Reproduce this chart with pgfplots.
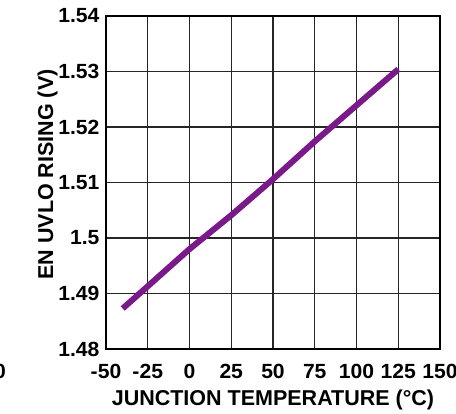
\documentclass[border=0pt]{standalone}
\usepackage{fontspec}
\setmainfont{Liberation Sans}
\newfontfamily\tickfont[FakeStretch=1.03]{Liberation Sans}
\usepackage{pgfplots}
\pgfplotsset{compat=1.18}
\definecolor{curve}{RGB}{123,24,140}
\begin{document}
\begin{tikzpicture}[x=1pt,y=1pt]
\path[use as bounding box] (0,0) rectangle (456,414);
\node[font=\tickfont\fontsize{20.5}{24}\selectfont\bfseries] at (0,43) {0};
\begin{axis}[
  at={(106pt,65pt)}, anchor=south west,
  width=334pt, height=333pt, scale only axis,
  xmin=-50, xmax=150, ymin=1.48, ymax=1.54,
  xtick={-50,-25,0,25,50,75,100,125,150},
  ytick={1.48,1.49,1.5,1.51,1.52,1.53,1.54},
  yticklabels={1.48,1.49,1.5,1.51,1.52,1.53,1.54},
  major tick length=0pt,
  grid=major,
  major grid style={line width=1.3pt, black!85},
  axis line style={line width=2.2pt, black},
  tick label style={font=\tickfont\fontsize{20.5}{24}\selectfont\bfseries},
  /pgf/number format/assume math mode=true,
  xticklabel style={yshift=-12pt},
  yticklabel style={xshift=-3pt},
  label style={font=\fontsize{21.5}{25}\selectfont\bfseries},
  xlabel={JUNCTION TEMPERATURE (°C)},
  ylabel={EN UVLO RISING (V)},
  xlabel style={yshift=-4pt},
  ylabel style={yshift=-6pt, xshift=8pt},
]
\addplot[color=curve, line width=6pt, no marks] coordinates {
(-40,1.4873) (-25,1.4913) (0,1.4980) (25,1.5041) (50,1.5106) (75,1.5174) (100,1.5239) (125,1.5304)
};
\end{axis}
\end{tikzpicture}
\end{document}
